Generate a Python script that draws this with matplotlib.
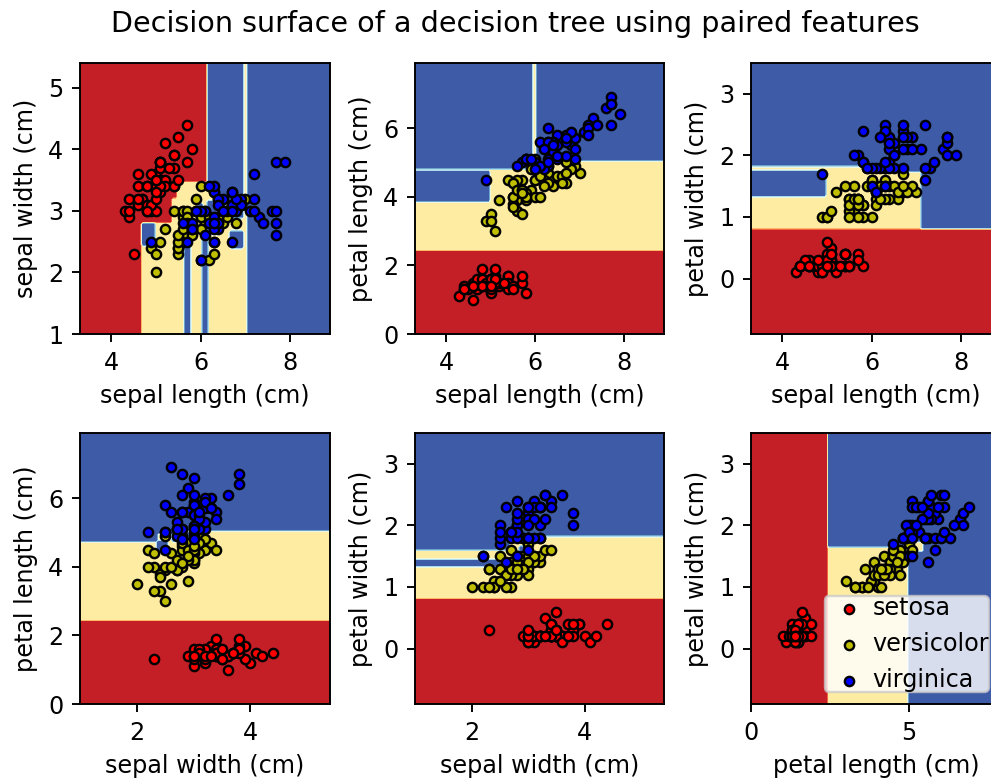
import numpy as np
import matplotlib
matplotlib.use("Agg")
import matplotlib.pyplot as plt

# iris measurements (cm), rows 1-50 setosa, 51-100 versicolor, 101-150 virginica
sepal_length = [
    5.1, 4.9, 4.7, 4.6, 5.0, 5.4, 4.6, 5.0, 4.4, 4.9, 5.4, 4.8, 4.8, 4.3, 5.8, 5.7, 5.4, 5.1, 5.7, 5.1,
    5.4, 5.1, 4.6, 5.1, 4.8, 5.0, 5.0, 5.2, 5.2, 4.7, 4.8, 5.4, 5.2, 5.5, 4.9, 5.0, 5.5, 4.9, 4.4, 5.1,
    5.0, 4.5, 4.4, 5.0, 5.1, 4.8, 5.1, 4.6, 5.3, 5.0,
    7.0, 6.4, 6.9, 5.5, 6.5, 5.7, 6.3, 4.9, 6.6, 5.2, 5.0, 5.9, 6.0, 6.1, 5.6, 6.7, 5.6, 5.8, 6.2, 5.6,
    5.9, 6.1, 6.3, 6.1, 6.4, 6.6, 6.8, 6.7, 6.0, 5.7, 5.5, 5.5, 5.8, 6.0, 5.4, 6.0, 6.7, 6.3, 5.6, 5.5,
    5.5, 6.1, 5.8, 5.0, 5.6, 5.7, 5.7, 6.2, 5.1, 5.7,
    6.3, 5.8, 7.1, 6.3, 6.5, 7.6, 4.9, 7.3, 6.7, 7.2, 6.5, 6.4, 6.8, 5.7, 5.8, 6.4, 6.5, 7.7, 7.7, 6.0,
    6.9, 5.6, 7.7, 6.3, 6.7, 7.2, 6.2, 6.1, 6.4, 7.2, 7.4, 7.9, 6.4, 6.3, 6.1, 7.7, 6.3, 6.4, 6.0, 6.9,
    6.7, 6.9, 5.8, 6.8, 6.7, 6.7, 6.3, 6.5, 6.2, 5.9]
sepal_width = [
    3.5, 3.0, 3.2, 3.1, 3.6, 3.9, 3.4, 3.4, 2.9, 3.1, 3.7, 3.4, 3.0, 3.0, 4.0, 4.4, 3.9, 3.5, 3.8, 3.8,
    3.4, 3.7, 3.6, 3.3, 3.4, 3.0, 3.4, 3.5, 3.4, 3.2, 3.1, 3.4, 4.1, 4.2, 3.1, 3.2, 3.5, 3.6, 3.0, 3.4,
    3.5, 2.3, 3.2, 3.5, 3.8, 3.0, 3.8, 3.2, 3.7, 3.3,
    3.2, 3.2, 3.1, 2.3, 2.8, 2.8, 3.3, 2.4, 2.9, 2.7, 2.0, 3.0, 2.2, 2.9, 2.9, 3.1, 3.0, 2.7, 2.2, 2.5,
    3.2, 2.8, 2.5, 2.8, 2.9, 3.0, 2.8, 3.0, 2.9, 2.6, 2.4, 2.4, 2.7, 2.7, 3.0, 3.4, 3.1, 2.3, 3.0, 2.5,
    2.6, 3.0, 2.6, 2.3, 2.7, 3.0, 2.9, 2.9, 2.5, 2.8,
    3.3, 2.7, 3.0, 2.9, 3.0, 3.0, 2.5, 2.9, 2.5, 3.6, 3.2, 2.7, 3.0, 2.5, 2.8, 3.2, 3.0, 3.8, 2.6, 2.2,
    3.2, 2.8, 2.8, 2.7, 3.3, 3.2, 2.8, 3.0, 2.8, 3.0, 2.8, 3.8, 2.8, 2.8, 2.6, 3.0, 3.4, 3.1, 3.0, 3.1,
    3.1, 3.1, 2.7, 3.2, 3.3, 3.0, 2.5, 3.0, 3.4, 3.0]
petal_length = [
    1.4, 1.4, 1.3, 1.5, 1.4, 1.7, 1.4, 1.5, 1.4, 1.5, 1.5, 1.6, 1.4, 1.1, 1.2, 1.5, 1.3, 1.4, 1.7, 1.5,
    1.7, 1.5, 1.0, 1.7, 1.9, 1.6, 1.6, 1.5, 1.4, 1.6, 1.6, 1.5, 1.5, 1.4, 1.5, 1.2, 1.3, 1.4, 1.3, 1.5,
    1.3, 1.3, 1.3, 1.6, 1.9, 1.4, 1.6, 1.4, 1.5, 1.4,
    4.7, 4.5, 4.9, 4.0, 4.6, 4.5, 4.7, 3.3, 4.6, 3.9, 3.5, 4.2, 4.0, 4.7, 3.6, 4.4, 4.5, 4.1, 4.5, 3.9,
    4.8, 4.0, 4.9, 4.7, 4.3, 4.4, 4.8, 5.0, 4.5, 3.5, 3.8, 3.7, 3.9, 5.1, 4.5, 4.5, 4.7, 4.4, 4.1, 4.0,
    4.4, 4.6, 4.0, 3.3, 4.2, 4.2, 4.2, 4.3, 3.0, 4.1,
    6.0, 5.1, 5.9, 5.6, 5.8, 6.6, 4.5, 6.3, 5.8, 6.1, 5.1, 5.3, 5.5, 5.0, 5.1, 5.3, 5.5, 6.7, 6.9, 5.0,
    5.7, 4.9, 6.7, 4.9, 5.7, 6.0, 4.8, 4.9, 5.6, 5.8, 6.1, 6.4, 5.6, 5.1, 5.6, 6.1, 5.6, 5.5, 4.8, 5.4,
    5.6, 5.1, 5.1, 5.9, 5.7, 5.2, 5.0, 5.2, 5.4, 5.1]
petal_width = [
    0.2, 0.2, 0.2, 0.2, 0.2, 0.4, 0.3, 0.2, 0.2, 0.1, 0.2, 0.2, 0.1, 0.1, 0.2, 0.4, 0.4, 0.3, 0.3, 0.3,
    0.2, 0.4, 0.2, 0.5, 0.2, 0.2, 0.4, 0.2, 0.2, 0.2, 0.2, 0.4, 0.1, 0.2, 0.2, 0.2, 0.2, 0.1, 0.2, 0.2,
    0.3, 0.3, 0.2, 0.6, 0.4, 0.3, 0.2, 0.2, 0.2, 0.2,
    1.4, 1.5, 1.5, 1.3, 1.5, 1.3, 1.6, 1.0, 1.3, 1.4, 1.0, 1.5, 1.0, 1.4, 1.3, 1.4, 1.5, 1.0, 1.5, 1.1,
    1.8, 1.3, 1.5, 1.2, 1.3, 1.4, 1.4, 1.7, 1.5, 1.0, 1.1, 1.0, 1.2, 1.6, 1.5, 1.6, 1.5, 1.3, 1.3, 1.3,
    1.2, 1.4, 1.2, 1.0, 1.3, 1.2, 1.3, 1.3, 1.1, 1.3,
    2.5, 1.9, 2.1, 1.8, 2.2, 2.1, 1.7, 1.8, 1.8, 2.5, 2.0, 1.9, 2.1, 2.0, 2.4, 2.3, 1.8, 2.2, 2.3, 1.5,
    2.3, 2.0, 2.0, 1.8, 2.1, 1.8, 1.8, 1.8, 2.1, 1.6, 1.9, 2.0, 2.2, 1.5, 1.4, 2.3, 2.4, 1.8, 1.8, 2.1,
    2.4, 2.3, 1.9, 2.3, 2.5, 2.3, 1.9, 2.0, 2.3, 1.8]
species = [0] * 50 + [1] * 50 + [2] * 50

target_names = ["setosa", "versicolor", "virginica"]
feature_names = ["sepal length (cm)", "sepal width (cm)",
                 "petal length (cm)", "petal width (cm)"]
pairs = [[0, 1], [0, 2], [0, 3], [1, 2], [1, 3], [2, 3]]
plot_colors = "ryb"

# sklearn tries the two features in a random order at every node, so equally
# good splits can go either way; nodes (path from root) where the y feature won
y_first = {1: ["RRLLLL"], 2: ["RRL"], 4: ["RLRL"]}


# small CART (gini, grown until pure) like sklearn's DecisionTreeClassifier
def proxy(cl, nl, cr, nr):
    il = 1.0 - float((cl * cl).sum()) / (nl * nl)
    ir = 1.0 - float((cr * cr).sum()) / (nr * nr)
    return -nr * ir - nl * il


def grow(X, y, idx, path, swaps):
    counts = np.bincount(y[idx], minlength=3).astype(float)
    n = len(idx)
    if n < 2 or np.count_nonzero(counts) <= 1:
        return int(np.argmax(counts))
    order = [1, 0] if path in swaps else [0, 1]
    best = None
    best_val = -np.inf
    for f in order:
        v = X[idx, f]
        s = np.argsort(v, kind="stable")
        vs = v[s]
        ys = y[idx][s]
        if vs[-1] <= vs[0] + 1e-7:
            continue
        cl = np.zeros(3)
        for p in range(1, n):
            cl[ys[p - 1]] += 1
            if vs[p] <= vs[p - 1] + 1e-7:
                continue
            val = proxy(cl, p, counts - cl, n - p)
            if val > best_val:
                best_val = val
                best = (f, float(vs[p - 1]) / 2.0 + float(vs[p]) / 2.0)
    if best is None:
        return int(np.argmax(counts))
    f, t = best
    left = idx[X[idx, f] <= t]
    right = idx[X[idx, f] > t]
    return (f, t, grow(X, y, left, path + "L", swaps),
            grow(X, y, right, path + "R", swaps))


def predict(node, P):
    out = np.empty(len(P), dtype=int)
    for i, row in enumerate(P):
        nd = node
        while isinstance(nd, tuple):
            nd = nd[2] if row[nd[0]] <= nd[1] else nd[3]
        out[i] = nd
    return out


data = np.array([sepal_length, sepal_width, petal_length, petal_width],
                dtype=np.float32).T
y = np.array(species)

W, H, DPI = 992, 780, 172
fig = plt.figure(figsize=(W / DPI, H / DPI), dpi=DPI)

# axes boxes in pixels: (left, right, top, bottom)
cols = [(80, 330), (415, 664), (751, 1001)]
rows = [(63, 334), (433, 704)]

for pairidx, pair in enumerate(pairs):
    X = data[:, pair]
    tree = grow(X, y, np.arange(len(y)), "", y_first.get(pairidx, []))

    c = cols[pairidx % 3]
    r = rows[pairidx // 3]
    ax = fig.add_axes([c[0] / W, 1 - r[1] / H, (c[1] - c[0]) / W, (r[1] - r[0]) / H])

    x0 = np.linspace(X[:, 0].min() - 1.0, X[:, 0].max() + 1.0, 100)
    x1 = np.linspace(X[:, 1].min() - 1.0, X[:, 1].max() + 1.0, 100)
    xx0, xx1 = np.meshgrid(x0, x1)
    grid = np.c_[xx0.ravel(), xx1.ravel()].astype(np.float32)
    Z = predict(tree, grid).reshape(xx0.shape)
    ax.contourf(xx0, xx1, Z, cmap=plt.cm.RdYlBu)
    ax.set_xlabel(feature_names[pair[0]])
    ax.set_ylabel(feature_names[pair[1]])

    for i, color in zip(range(3), plot_colors):
        idx = np.where(y == i)
        ax.scatter(X[idx, 0], X[idx, 1], c=color, label=target_names[i],
                   edgecolor="black", s=15)

fig.text(515 / W, 1 - 32 / H, "Decision surface of a decision tree using paired features",
         ha="center", va="baseline", fontsize=12)
ax.legend(loc="lower right", borderpad=0, handletextpad=0)
ax.axis("tight")

fig.savefig("out.png", dpi=DPI)
